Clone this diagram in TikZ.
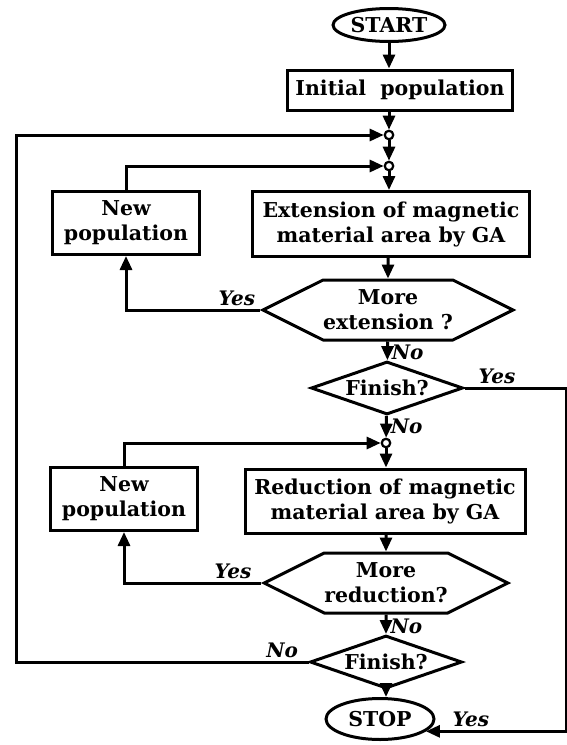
\documentclass[tikz,border=0pt]{standalone}
\usepackage{fontspec}
\setmainfont{DejaVu Serif}
\usetikzlibrary{shapes.geometric,shapes.symbols,arrows.meta}
\tikzset{
    >={Triangle[width=12pt,length=14pt]},
    every node/.style={font=\fontsize{20.5}{25}\selectfont\bfseries},
    flow/.style={line width=3pt},
    blk/.style={draw, line width=3pt, rectangle, align=center, inner sep=0pt},
    term/.style={draw, line width=3pt, ellipse, inner sep=0pt},
    test/.style={draw, line width=3pt, signal, signal to=east and west,
        signal pointer angle=53, align=center, inner sep=0pt,
        minimum width=240pt, minimum height=60pt},
    finish/.style={draw, line width=3pt, diamond, aspect=2.9, inner sep=0pt,
        minimum width=152pt, minimum height=53pt},
    joint/.style={draw, line width=2.2pt, circle, fill=white, inner sep=0pt, minimum size=8.5pt},
    lbl/.style={font=\fontsize{20}{24}\selectfont\bfseries\itshape, inner sep=3pt},
}
\begin{document}
\begin{tikzpicture}[x=1pt, y=-1pt]
\useasboundingbox (0,0) rectangle (567,745);
% main column
\node[term, minimum width=112pt, minimum height=33pt] (start) at (389,25) {START};
\node[blk, minimum width=225pt, minimum height=40pt] (init) at (400,90) {Initial\ \ population};
\node[joint] (j1) at (389,135) {};
\node[joint] (j2) at (389,166) {};
\node[blk, minimum width=277pt, minimum height=65pt] (ext) at (391,224) {Extension of magnetic\\material area by GA};
\node[test] (more1) at (388,310) {More\\extension ?};
\node[finish] (fin1) at (387,388) {Finish?};
\node[joint] (j3) at (386,443) {};
\node[blk, minimum width=280pt, minimum height=64pt] (red) at (385,501) {Reduction of magnetic\\material area by GA};
\node[test] (more2) at (386,583) {More\\reduction?};
\node[finish] (fin2) at (386,662) {Finish?};
\node[term, minimum width=108pt, minimum height=41pt] (stop) at (380,719) {STOP};
% side boxes
\node[blk, minimum width=147pt, minimum height=63pt] (new1) at (126,223) {New\\population};
\node[blk, minimum width=147pt, minimum height=63pt] (new2) at (124,499) {New\\population};
\coordinate (lft) at (16,400);
\coordinate (rgt) at (566,400);

% downward flow
\draw[flow,->] (start) -- (start |- init.north);
\draw[flow,->] (init.south -| j1) -- (j1);
\draw[flow,->] (j1) -- (j2);
\draw[flow,->] (j2) -- (j2 |- ext.north);
\draw[flow,->] (ext.south -| more1) -- (more1);
\draw[flow,->] (more1) -- node[lbl, right, pos=0.6] {No} (fin1);
\draw[flow,->] (fin1) -- node[lbl, right] {No} (j3);
\draw[flow,->] (j3) -- (j3 |- red.north);
\draw[flow,->] (red.south -| more2) -- (more2);
\draw[flow,->] (more2) -- node[lbl, right, pos=0.6] {No} (fin2);
\draw[flow,->] (fin2) -- (fin2 |- stop.north);

% loops
\draw[flow,->] (more1.west) node[lbl, above left] {Yes} -| (new1);
\draw[flow,->] (new1) |- (j2);
\draw[flow,->] (more2.west) node[lbl, above left, xshift=-5pt] {Yes} -| (new2);
\draw[flow,->] (new2) |- (j3);
\draw[flow,->] (fin2.west) node[lbl, above left, xshift=-6pt] {No} -| (lft) |- (j1);
\draw[flow,->] (fin1.east) -| node[lbl, above, pos=0.16] {Yes} (rgt)
    |- node[lbl, above, pos=0.84] {Yes} (stop.-15);
\end{tikzpicture}
\end{document}
